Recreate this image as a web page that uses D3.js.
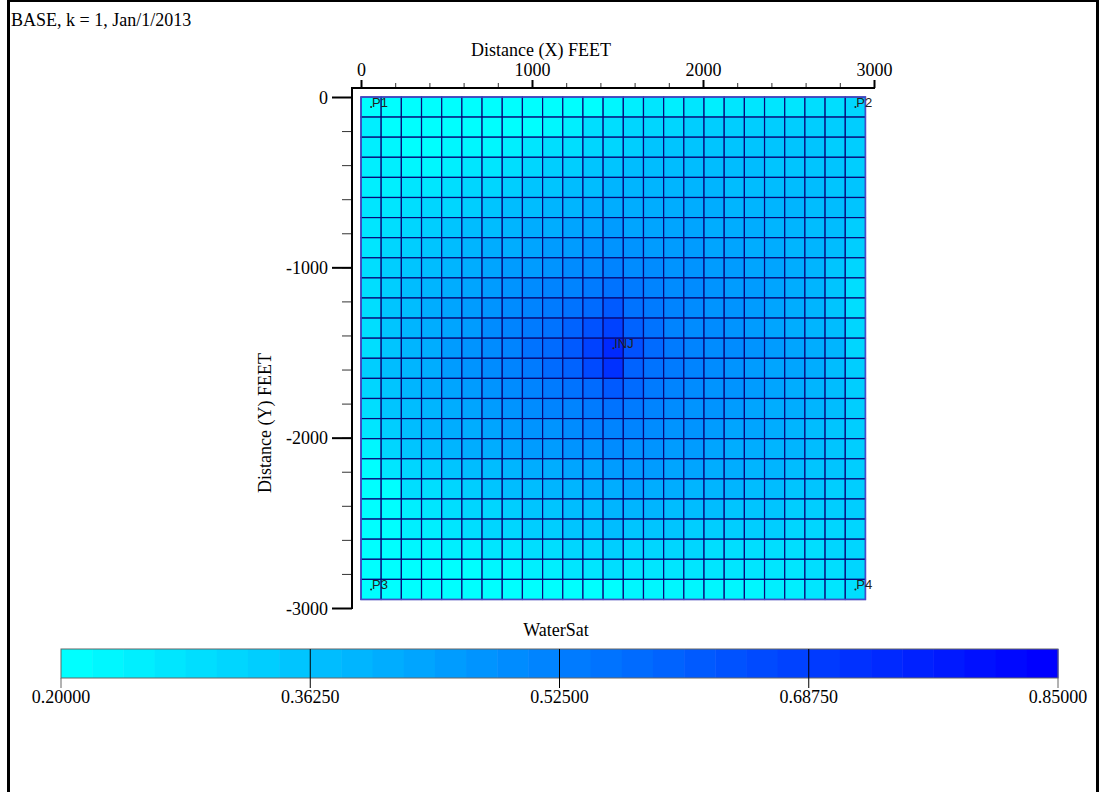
<!DOCTYPE html>
<html>
<head>
<meta charset="utf-8">
<script src="https://cdn.jsdelivr.net/npm/d3@7"></script>
<style>
  html, body { margin: 0; padding: 0; background: #fff; }
  svg { display: block; }
  text { font-family: "Liberation Serif", "Times New Roman", serif; font-size: 18px; fill: #000; }
  .well { font-family: "Liberation Sans", Arial, sans-serif; font-size: 13px; fill: #222; }
</style>
</head>
<body>
<div id="chart"></div>
<script>
// grid cell size (ft) and block count
const CELL_FT = 118;
const N_CELLS = 25;

const X_TICKS = [0, 1000, 2000, 3000];
const Y_TICKS = [0, -1000, -2000, -3000];
const CBAR_TICKS = [0.2, 0.3625, 0.525, 0.6875, 0.85];
const SAT_RANGE = [0.2, 0.85];

const WELLS = [
  { name: "P1", i: 0, j: 0 },
  { name: "P2", i: 24, j: 0 },
  { name: "P3", i: 0, j: 24 },
  { name: "P4", i: 24, j: 24 },
  { name: "INJ", i: 12, j: 12 }
];

// water saturation, one row per j (top to bottom)
const SW = [
  [0.22,0.20,0.20,0.20,0.20,0.20,0.20,0.20,0.20,0.20,0.20,0.22,0.24, 0.25,0.27,0.26,0.27,0.26,0.28,0.28,0.27,0.27,0.29,0.30,0.32],
  [0.25,0.21,0.21,0.21,0.21,0.21,0.21,0.21,0.21,0.23,0.26,0.29,0.30, 0.31,0.32,0.32,0.33,0.33,0.33,0.33,0.33,0.33,0.33,0.33,0.33],
  [0.25,0.23,0.21,0.21,0.23,0.24,0.24,0.26,0.28,0.29,0.30,0.31,0.32, 0.34,0.35,0.35,0.35,0.35,0.35,0.35,0.35,0.35,0.35,0.34,0.34],
  [0.25,0.25,0.24,0.24,0.26,0.27,0.28,0.30,0.31,0.33,0.34,0.35,0.36, 0.37,0.37,0.37,0.37,0.37,0.37,0.37,0.36,0.36,0.36,0.35,0.34],
  [0.26,0.26,0.27,0.28,0.29,0.31,0.32,0.34,0.35,0.36,0.37,0.38,0.39, 0.39,0.39,0.39,0.39,0.39,0.38,0.38,0.38,0.37,0.37,0.36,0.35],
  [0.27,0.28,0.29,0.31,0.32,0.34,0.35,0.37,0.38,0.39,0.40,0.41,0.42, 0.42,0.41,0.41,0.41,0.41,0.40,0.40,0.39,0.39,0.38,0.37,0.35],
  [0.28,0.30,0.32,0.33,0.35,0.37,0.38,0.40,0.41,0.42,0.43,0.44,0.45, 0.44,0.44,0.43,0.43,0.42,0.42,0.41,0.40,0.39,0.38,0.37,0.34],
  [0.28,0.32,0.34,0.36,0.38,0.39,0.41,0.42,0.44,0.45,0.46,0.47,0.48, 0.47,0.46,0.45,0.45,0.44,0.43,0.42,0.41,0.40,0.39,0.37,0.33],
  [0.29,0.33,0.36,0.38,0.40,0.42,0.43,0.45,0.46,0.48,0.49,0.50,0.52, 0.50,0.49,0.48,0.47,0.46,0.45,0.44,0.43,0.41,0.39,0.36,0.31],
  [0.29,0.34,0.37,0.40,0.42,0.44,0.46,0.47,0.49,0.51,0.52,0.54,0.56, 0.53,0.51,0.50,0.49,0.47,0.46,0.45,0.43,0.41,0.39,0.36,0.30],
  [0.29,0.35,0.38,0.41,0.43,0.45,0.47,0.49,0.51,0.53,0.55,0.58,0.61, 0.56,0.53,0.51,0.50,0.48,0.47,0.45,0.43,0.41,0.39,0.36,0.30],
  [0.29,0.35,0.39,0.42,0.44,0.46,0.49,0.51,0.53,0.56,0.59,0.63,0.67, 0.60,0.55,0.52,0.50,0.49,0.47,0.45,0.43,0.42,0.40,0.37,0.31],
  [0.30,0.35,0.39,0.42,0.45,0.47,0.50,0.52,0.55,0.58,0.62,0.67,0.73, 0.63,0.58,0.54,0.52,0.50,0.49,0.47,0.45,0.44,0.42,0.39,0.32],
  [0.33,0.37,0.40,0.42,0.45,0.47,0.50,0.52,0.54,0.57,0.60,0.65,0.71, 0.60,0.56,0.53,0.51,0.49,0.48,0.46,0.44,0.43,0.41,0.38,0.33],
  [0.31,0.36,0.39,0.41,0.43,0.45,0.47,0.49,0.51,0.53,0.55,0.58,0.62, 0.57,0.54,0.52,0.50,0.48,0.47,0.45,0.44,0.42,0.40,0.37,0.33],
  [0.29,0.35,0.38,0.40,0.42,0.44,0.46,0.47,0.49,0.51,0.52,0.54,0.56, 0.54,0.52,0.50,0.48,0.47,0.45,0.44,0.42,0.41,0.39,0.37,0.33],
  [0.28,0.33,0.37,0.39,0.41,0.42,0.44,0.46,0.47,0.48,0.49,0.51,0.52, 0.51,0.50,0.48,0.47,0.45,0.44,0.43,0.41,0.40,0.38,0.36,0.33],
  [0.24,0.31,0.35,0.37,0.39,0.41,0.42,0.44,0.45,0.46,0.47,0.48,0.49, 0.48,0.47,0.46,0.45,0.44,0.42,0.41,0.40,0.39,0.37,0.36,0.33],
  [0.22,0.27,0.31,0.33,0.35,0.37,0.38,0.40,0.41,0.42,0.43,0.44,0.45, 0.46,0.45,0.44,0.43,0.42,0.41,0.40,0.39,0.37,0.36,0.35,0.33],
  [0.20,0.21,0.29,0.30,0.32,0.34,0.36,0.37,0.38,0.39,0.40,0.41,0.42, 0.43,0.42,0.41,0.40,0.40,0.39,0.38,0.37,0.36,0.35,0.34,0.33],
  [0.20,0.21,0.26,0.27,0.29,0.31,0.32,0.33,0.35,0.36,0.37,0.38,0.39, 0.40,0.39,0.38,0.38,0.37,0.36,0.36,0.35,0.34,0.34,0.33,0.33],
  [0.20,0.21,0.25,0.26,0.28,0.30,0.31,0.32,0.33,0.34,0.35,0.36,0.37, 0.36,0.35,0.35,0.34,0.34,0.33,0.33,0.33,0.32,0.32,0.32,0.32],
  [0.20,0.20,0.23,0.23,0.25,0.26,0.27,0.28,0.29,0.30,0.31,0.32,0.33, 0.32,0.31,0.31,0.31,0.30,0.30,0.30,0.30,0.30,0.30,0.31,0.32],
  [0.20,0.20,0.21,0.21,0.22,0.22,0.23,0.24,0.25,0.26,0.27,0.28,0.29, 0.28,0.27,0.27,0.27,0.27,0.27,0.27,0.28,0.28,0.29,0.30,0.31],
  [0.20,0.20,0.20,0.20,0.20,0.20,0.20,0.20,0.20,0.20,0.20,0.20,0.21, 0.23,0.23,0.23,0.23,0.24,0.24,0.24,0.25,0.26,0.27,0.28,0.30]
];

const W = 1099, H = 792;

const svg = d3.select("#chart").append("svg")
  .attr("width", W).attr("height", H);

svg.append("rect").attr("width", W).attr("height", H).attr("fill", "#fff");

// page frame
svg.append("rect")
  .attr("x", 8.5).attr("y", 0.5)
  .attr("width", 1089).attr("height", 820)
  .attr("fill", "none").attr("stroke", "#000").attr("stroke-width", 3);

svg.append("text").attr("x", 11).attr("y", 26).text("BASE, k = 1, Jan/1/2013");

const x = d3.scaleLinear().domain([0, 3000]).range([361, 874]);
const y = d3.scaleLinear().domain([0, -3000]).range([97, 608]);

// 32 stepped colours, cyan -> blue
const NBANDS = 32;
const bandColors = d3.range(NBANDS).map(k => d3.interpolateRgb("#00ffff", "#0000ff")(k / (NBANDS - 1)));
const color = d3.scaleQuantize().domain(SAT_RANGE).range(bandColors);

// cells
const cells = [];
SW.forEach((row, j) => row.forEach((v, i) => cells.push({ i, j, v })));

const g = svg.append("g");
g.selectAll("rect.cell")
  .data(cells)
  .enter().append("rect")
  .attr("class", "cell")
  .attr("x", d => x(d.i * CELL_FT))
  .attr("y", d => y(-d.j * CELL_FT))
  .attr("width", d => x((d.i + 1) * CELL_FT) - x(d.i * CELL_FT))
  .attr("height", d => y(-(d.j + 1) * CELL_FT) - y(-d.j * CELL_FT))
  .attr("fill", d => color(d.v))
  .attr("stroke", "#08087a")
  .attr("stroke-width", 1.2);

g.append("rect")
  .attr("x", x(0)).attr("y", y(0))
  .attr("width", x(N_CELLS * CELL_FT) - x(0))
  .attr("height", y(-N_CELLS * CELL_FT) - y(0))
  .attr("fill", "none").attr("stroke", "#4a4ac8").attr("stroke-width", 1.5);

// wells
const wg = svg.append("g");
WELLS.forEach(w => {
  const cx = x((w.i + 0.5) * CELL_FT), cy = y(-(w.j + 0.5) * CELL_FT);
  wg.append("circle").attr("cx", cx).attr("cy", cy).attr("r", 1).attr("fill", "#222");
  wg.append("text").attr("class", "well").attr("x", cx + 1).attr("y", cy).text(w.name);
});

// axes
const AX_Y = 88, AX_X = 352;
const plainFmt = d => String(d);   // keep the ASCII hyphen for negatives

const xMinor = svg.append("g").attr("transform", `translate(0,${AX_Y})`)
  .call(d3.axisTop(x).tickValues(d3.range(0, 3001, 200)).tickSize(5).tickFormat(""));
const xMajor = svg.append("g").attr("transform", `translate(0,${AX_Y})`)
  .call(d3.axisTop(x).tickValues(X_TICKS).tickSize(8).tickPadding(4).tickFormat(plainFmt));

const yMinor = svg.append("g").attr("transform", `translate(${AX_X},0)`)
  .call(d3.axisLeft(y).tickValues(d3.range(0, -3001, -200)).tickSize(10).tickFormat(""));
const yMajor = svg.append("g").attr("transform", `translate(${AX_X},0)`)
  .call(d3.axisLeft(y).tickValues(Y_TICKS).tickSize(20).tickPadding(4).tickFormat(plainFmt));

svg.selectAll(".domain").remove();
[xMinor, yMinor].forEach(a => a.selectAll(".tick line").attr("stroke", "#333").attr("stroke-width", 1));
[xMajor, yMajor].forEach(a => {
  a.selectAll(".tick line").attr("stroke", "#000").attr("stroke-width", 2);
  a.selectAll(".tick text")
    .style("font-family", '"Liberation Serif", "Times New Roman", serif')
    .style("font-size", "18px").attr("fill", "#000");
});
yMajor.selectAll(".tick text").attr("dy", "0.35em");
xMajor.selectAll(".tick text").attr("dy", "0");

svg.append("line").attr("x1", AX_X - 1).attr("x2", 875).attr("y1", AX_Y).attr("y2", AX_Y)
  .attr("stroke", "#000").attr("stroke-width", 2);
svg.append("line").attr("x1", AX_X).attr("x2", AX_X).attr("y1", AX_Y).attr("y2", 609)
  .attr("stroke", "#000").attr("stroke-width", 2);

svg.append("text").attr("x", 541).attr("y", 56).attr("text-anchor", "middle").text("Distance (X) FEET");
svg.append("text")
  .attr("transform", "translate(271,423) rotate(-90)")
  .attr("text-anchor", "middle").text("Distance (Y) FEET");

// colour bar
const cb = { top: 649, h: 29 };
const cxs = d3.scaleLinear().domain(SAT_RANGE).range([61, 1058]);
const step = (SAT_RANGE[1] - SAT_RANGE[0]) / NBANDS;

svg.append("text").attr("x", 556).attr("y", 636).attr("text-anchor", "middle").text("WaterSat");

svg.append("g").selectAll("rect")
  .data(bandColors)
  .enter().append("rect")
  .attr("x", (c, k) => cxs(SAT_RANGE[0] + k * step))
  .attr("width", (c, k) => cxs(SAT_RANGE[0] + (k + 1) * step) - cxs(SAT_RANGE[0] + k * step) + 0.5)
  .attr("y", cb.top).attr("height", cb.h)
  .attr("fill", c => c);

svg.append("rect")
  .attr("x", cxs(SAT_RANGE[0])).attr("y", cb.top)
  .attr("width", cxs(SAT_RANGE[1]) - cxs(SAT_RANGE[0])).attr("height", cb.h)
  .attr("fill", "none").attr("stroke", "#666").attr("stroke-width", 1);

const cbTicks = svg.append("g").selectAll("g")
  .data(CBAR_TICKS)
  .enter().append("g");

cbTicks.append("line")
  .attr("x1", d => cxs(d)).attr("x2", d => cxs(d))
  .attr("y1", (d, k) => (k === 0 || k === CBAR_TICKS.length - 1) ? cb.top + cb.h : cb.top)
  .attr("y2", cb.top + cb.h + 10)
  .attr("stroke", (d, k) => (k === 0 || k === CBAR_TICKS.length - 1) ? "#666" : "#000")
  .attr("stroke-width", 1);

cbTicks.append("text")
  .attr("x", d => cxs(d)).attr("y", 703)
  .attr("text-anchor", "middle")
  .text(d3.format(".5f"));
</script>
</body>
</html>
